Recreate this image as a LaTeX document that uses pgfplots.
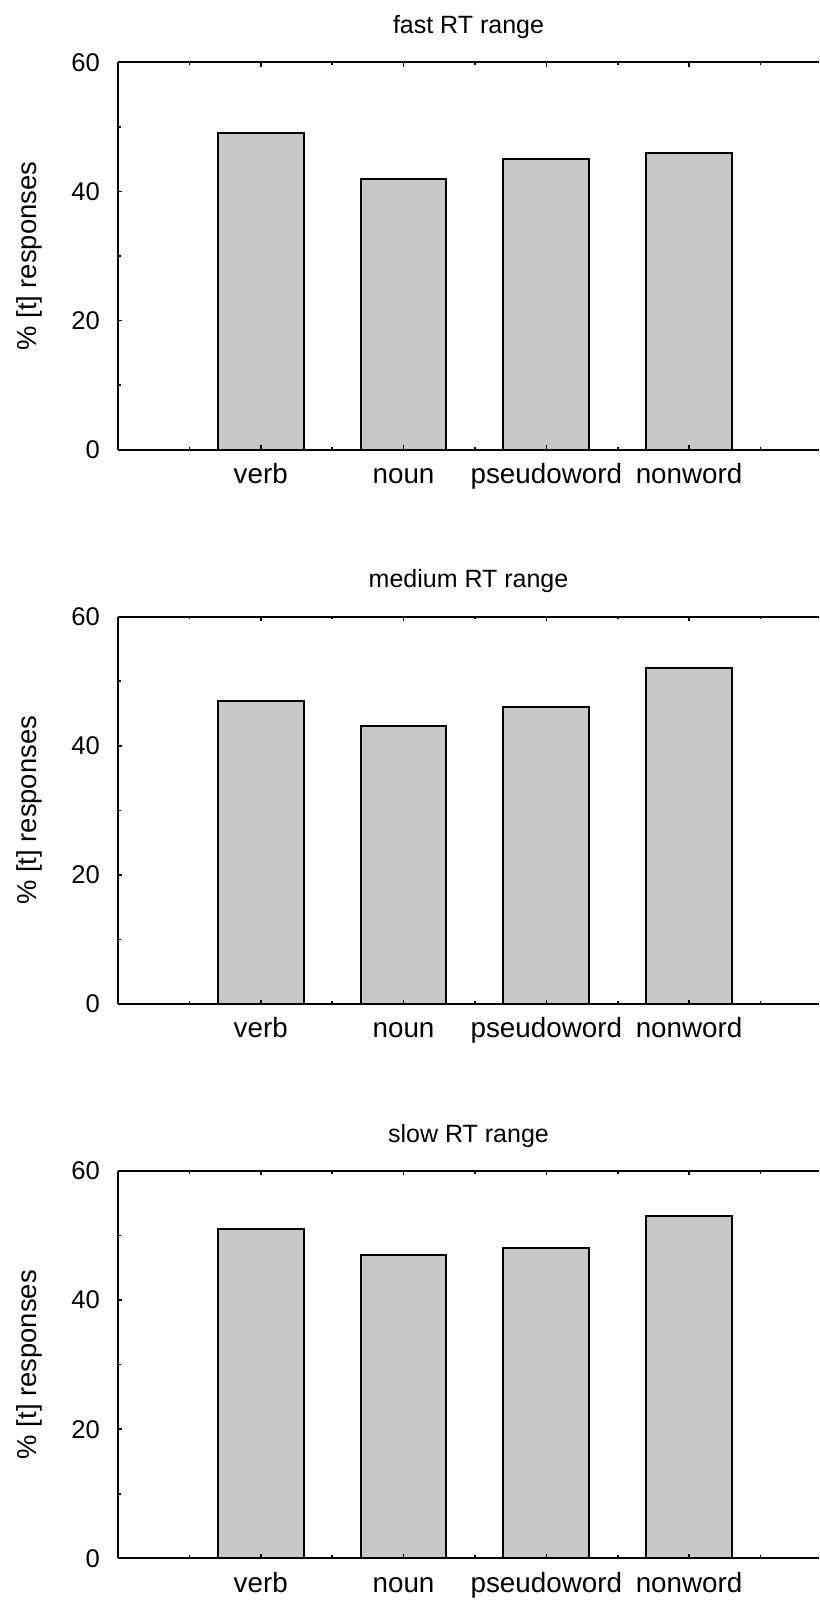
\documentclass[border=0pt]{standalone}
\usepackage{pgfplots}
\pgfplotsset{compat=1.18}
\usepackage{fontspec}
\setmainfont{Liberation Sans}

\definecolor{barfill}{HTML}{C8C8C8}

\pgfplotsset{
  rtpanel/.style={
    scale only axis,
    width=350.5pt, height=193.65pt,
    anchor=north west,
    xmin=0, xmax=4.91,
    ymin=0, ymax=60,
    axis x line=box, axis y line=left,
    axis line style={-, line width=1pt},
    axis on top,
    ybar, bar width=0.6,
    xtick={1,2,3,4},
    xticklabels={verb,noun,pseudoword,nonword},
    minor xtick={0.5,1.5,2.5,3.5,4.5},
    ytick={0,20,40,60},
    minor ytick={10,30,50},
    tick align=inside,
    major tick length=2.2pt, minor tick length=1.4pt,
    every tick/.style={black, line width=0.8pt},
    /pgf/number format/assume math mode=true,
    yticklabel style={font=\fontsize{12.8}{15}\selectfont, xshift=-5.5pt},
    xticklabel style={font=\fontsize{13.9}{16}\selectfont, anchor=base, yshift=-17pt},
    ylabel={\% [t] responses},
    ylabel style={at={(axis description cs:-0.127,0.5)}, anchor=center,
      font=\fontsize{13.7}{16}\selectfont},
    title style={at={(axis description cs:0.5,1)}, anchor=base, yshift=8.4pt,
      font=\fontsize{12.5}{15}\selectfont},
  },
  rtbar/.style={fill=barfill, draw=black, line width=1pt},
}

\begin{document}
\begin{tikzpicture}
\useasboundingbox (0,0) rectangle (409.5pt,800pt);

% fast RT range
\begin{axis}[rtpanel, at={(59pt,768.75pt)}, title={fast RT range}]
\addplot[rtbar] coordinates {(1,49) (2,42) (3,45) (4,46)};
\end{axis}

% medium RT range
\begin{axis}[rtpanel, at={(59pt,491.65pt)}, title={medium RT range}]
\addplot[rtbar] coordinates {(1,47) (2,43) (3,46) (4,52)};
\end{axis}

% slow RT range
\begin{axis}[rtpanel, at={(59pt,214.5pt)}, title={slow RT range}]
\addplot[rtbar] coordinates {(1,51) (2,47) (3,48) (4,53)};
\end{axis}
\end{tikzpicture}
\end{document}
